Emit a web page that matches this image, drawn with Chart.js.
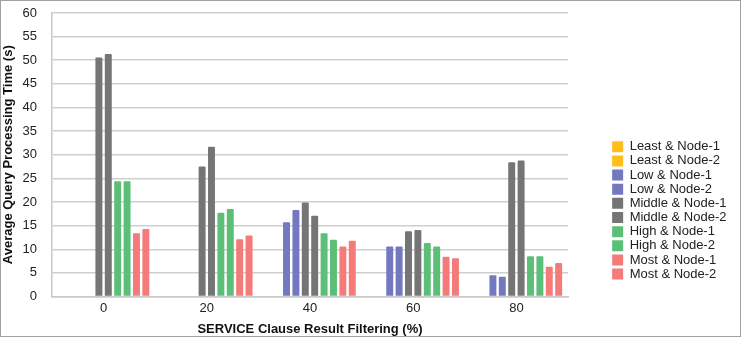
<!DOCTYPE html>
<html>
<head>
<meta charset="utf-8">
<script src="https://cdn.jsdelivr.net/npm/chart.js@4/dist/chart.umd.min.js"></script>
<style>
  body { margin: 0; background: #fff; }
  #frame { width: 741px; height: 337px; box-sizing: border-box; border: 1px solid #a0a0a0; }
  canvas { display: block; }
</style>
</head>
<body>
<div id="frame"><canvas id="chart" width="739" height="335"></canvas></div>
<script>
// Data
const categories = ["0", "20", "40", "60", "80"];

const leastNode1 = [0, 0, 0, 0, 0];
const leastNode2 = [0, 0, 0, 0, 0];
const lowNode1 = [0, 0, 15.7, 10.6, 4.5];
const lowNode2 = [0, 0, 18.3, 10.6, 4.2];
const middleNode1 = [50.6, 27.5, 19.9, 13.8, 28.4];
const middleNode2 = [51.3, 31.7, 17.1, 14.1, 28.8];
const highNode1 = [24.4, 17.7, 13.4, 11.3, 8.5];
const highNode2 = [24.4, 18.5, 12.0, 10.6, 8.5];
const mostNode1 = [13.4, 12.1, 10.6, 8.4, 6.3];
const mostNode2 = [14.3, 12.9, 11.8, 8.1, 7.1];

const yTicks = [0, 5, 10, 15, 20, 25, 30, 35, 40, 45, 50, 55, 60];

const yellow = "#FFBE1A";
const blue = "#7479BF";
const gray = "#757575";
const green = "#5CBF78";
const red = "#F47B7A";

function series(label, data, color) {
    return {
        label: label,
        data: data,
        backgroundColor: color,
        borderRadius: 1,
        borderSkipped: "bottom",
        categoryPercentage: 0.91,
        barPercentage: 0.74
    };
}

const font = { family: "'Liberation Sans', Arial, sans-serif", size: 13 };

new Chart(document.getElementById("chart"), {
    type: "bar",
    data: {
        labels: categories,
        datasets: [
            series("Least & Node-1", leastNode1, yellow),
            series("Least & Node-2", leastNode2, yellow),
            series("Low & Node-1", lowNode1, blue),
            series("Low & Node-2", lowNode2, blue),
            series("Middle & Node-1", middleNode1, gray),
            series("Middle & Node-2", middleNode2, gray),
            series("High & Node-1", highNode1, green),
            series("High & Node-2", highNode2, green),
            series("Most & Node-1", mostNode1, red),
            series("Most & Node-2", mostNode2, red)
        ]
    },
    options: {
        responsive: false,
        animation: false,
        layout: { padding: { top: 12, right: 7, bottom: 0, left: 0 } },
        plugins: {
            tooltip: { enabled: false },
            legend: {
                position: "right",
                align: "start",
                fullSize: false,
                // empty title only pushes the legend items down
                title: {
                    display: true,
                    text: "",
                    font: { size: 13 },
                    padding: { top: 110.5, bottom: 0 }
                },
                labels: {
                    font: font,
                    color: "#222",
                    boxWidth: 11,
                    boxHeight: 11,
                    padding: 1.15
                }
            }
        },
        scales: {
            x: {
                afterFit: (scale) => {
                    scale.height = 39.5;
                },
                grid: { display: false, drawTicks: false },
                border: { display: true, color: "#c8c8c8", width: 1.5 },
                ticks: { font: font, color: "#222", padding: 4 },
                title: {
                    display: true,
                    text: "SERVICE Clause Result Filtering (%)",
                    font: { family: font.family, size: 13, weight: "bold", lineHeight: 1.0 },
                    color: "#111",
                    padding: { top: 6, bottom: 0 }
                }
            },
            y: {
                min: 0,
                max: 60,
                afterBuildTicks: (scale) => {
                    scale.ticks = yTicks.map((v) => ({ value: v }));
                },
                afterFit: (scale) => {
                    scale.width = 51;
                },
                grid: { color: "#cfcfcf", lineWidth: 1.5, drawTicks: true, tickLength: 12, tickColor: "rgba(0,0,0,0)" },
                border: { display: true, color: "#c8c8c8", width: 1.5 },
                ticks: { font: font, color: "#222", padding: 3 },
                title: {
                    display: true,
                    text: "Average Query Processing Time (s)",
                    font: { family: font.family, size: 13, weight: "bold", lineHeight: 1.1 },
                    color: "#111",
                    padding: 0
                }
            },
            // empty axis that keeps the gap between plot and legend
            gap: {
                position: "right",
                display: true,
                grid: { display: false, drawTicks: false },
                border: { display: false },
                ticks: { display: false },
                afterFit: (scale) => {
                    scale.width = 43;
                }
            }
        }
    }
});
</script>
</body>
</html>
